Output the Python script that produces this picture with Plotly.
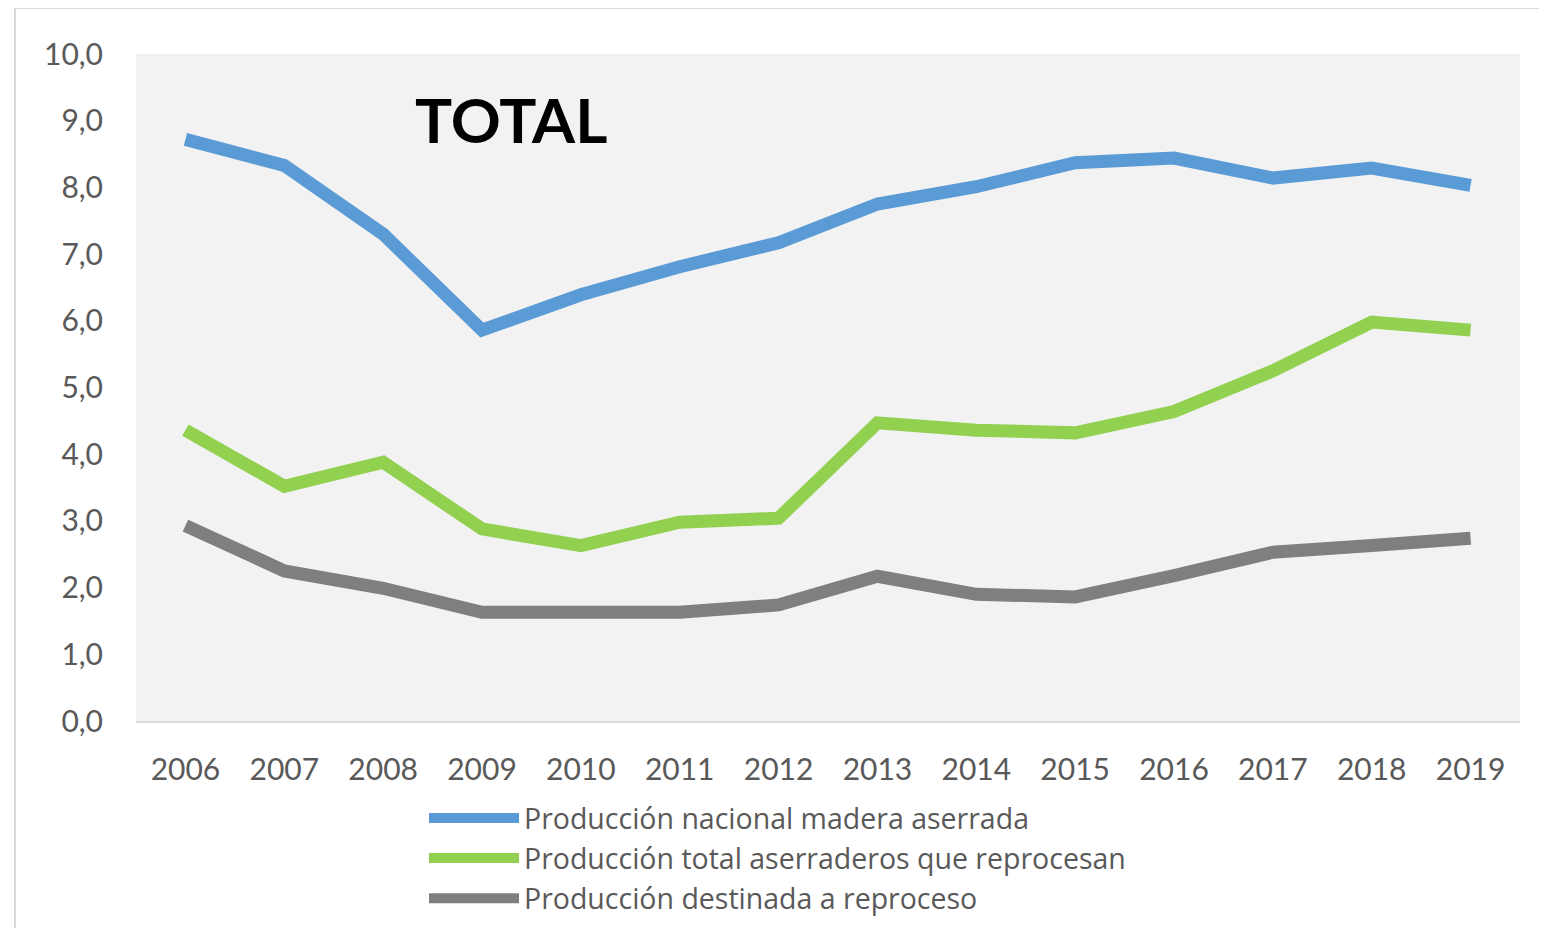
import plotly.graph_objects as go

years = ["2006", "2007", "2008", "2009", "2010", "2011", "2012",
         "2013", "2014", "2015", "2016", "2017", "2018", "2019"]
nacional = [8.72, 8.33, 7.30, 5.86, 6.39, 6.81, 7.17, 7.75, 8.01, 8.37, 8.44, 8.14, 8.29, 8.03]
reprocesan = [4.36, 3.52, 3.88, 2.88, 2.63, 2.98, 3.04, 4.47, 4.36, 4.32, 4.64, 5.25, 5.98, 5.86]
destinada = [2.93, 2.25, 1.99, 1.63, 1.63, 1.63, 1.74, 2.17, 1.90, 1.86, 2.18, 2.53, 2.63, 2.74]

names = ["Producción nacional madera aserrada",
         "Producción total aserraderos que reprocesan",
         "Producción destinada a reproceso"]
colors = ["#5B9BD5", "#92D050", "#7F7F7F"]
series = [nacional, reprocesan, destinada]

FONT = "Lato"
OFF = 8  # page body margin
W, H = 1547 - OFF, 928 - OFF
# page-pixel positions of plot area
PL, PR, PT, PB = 136, 1520, 54, 721
L, T = PL - OFF, PT - OFF
R = W - (PR - OFF)
B = H - (PB - OFF)

fig = go.Figure()
for n, c, s in zip(names, colors, series):
    fig.add_trace(go.Scatter(x=years, y=s, name=n, mode="lines",
                             line=dict(color=c, width=13)))

pw = PR - PL
ph = PB - PT
def px_x(p):
    return (p - PL) / pw
def px_y(p):
    return (PB - p) / ph

fig.update_layout(
    width=W, height=H,
    margin=dict(l=L, r=R, t=T, b=B, pad=0, autoexpand=False),
    paper_bgcolor="white",
    plot_bgcolor="#F2F2F2",
    separators=",.",
    font=dict(family=FONT, color="#595959", size=30),
    showlegend=True,
    legend=dict(x=px_x(424), y=px_y(793), xanchor="left", yanchor="top",
                orientation="v", font=dict(size=28.5, color="#595959", family="Open Sans"),
                bgcolor="rgba(0,0,0,0)", tracegroupgap=0, itemwidth=90),
    xaxis=dict(type="category", range=[-0.5, 13.5], showgrid=False,
               showline=True, linecolor="#D9D9D9", linewidth=2,
               ticks="", ticklabelstandoff=21, tickfont=dict(size=30, color="#595959")),
    yaxis=dict(range=[0, 10], dtick=1, tickformat=".1f", showgrid=False,
               zeroline=False, showline=False, ticks="", ticklabelstandoff=32,
               tickfont=dict(size=30, color="#595959")),
    annotations=[dict(text="<b>TOTAL</b>", x=px_x(413), y=px_y(119), xref="paper", yref="paper",
                      xanchor="left", yanchor="middle", showarrow=False,
                      font=dict(size=62, color="black", family=FONT))],
    shapes=[dict(type="rect", xref="paper", yref="paper",
                 x0=px_x(15), x1=px_x(1580), y0=px_y(960), y1=px_y(8),
                 line=dict(color="#D9D9D9", width=2), fillcolor="rgba(0,0,0,0)", layer="below")],
)

fig.write_html("out.html")
